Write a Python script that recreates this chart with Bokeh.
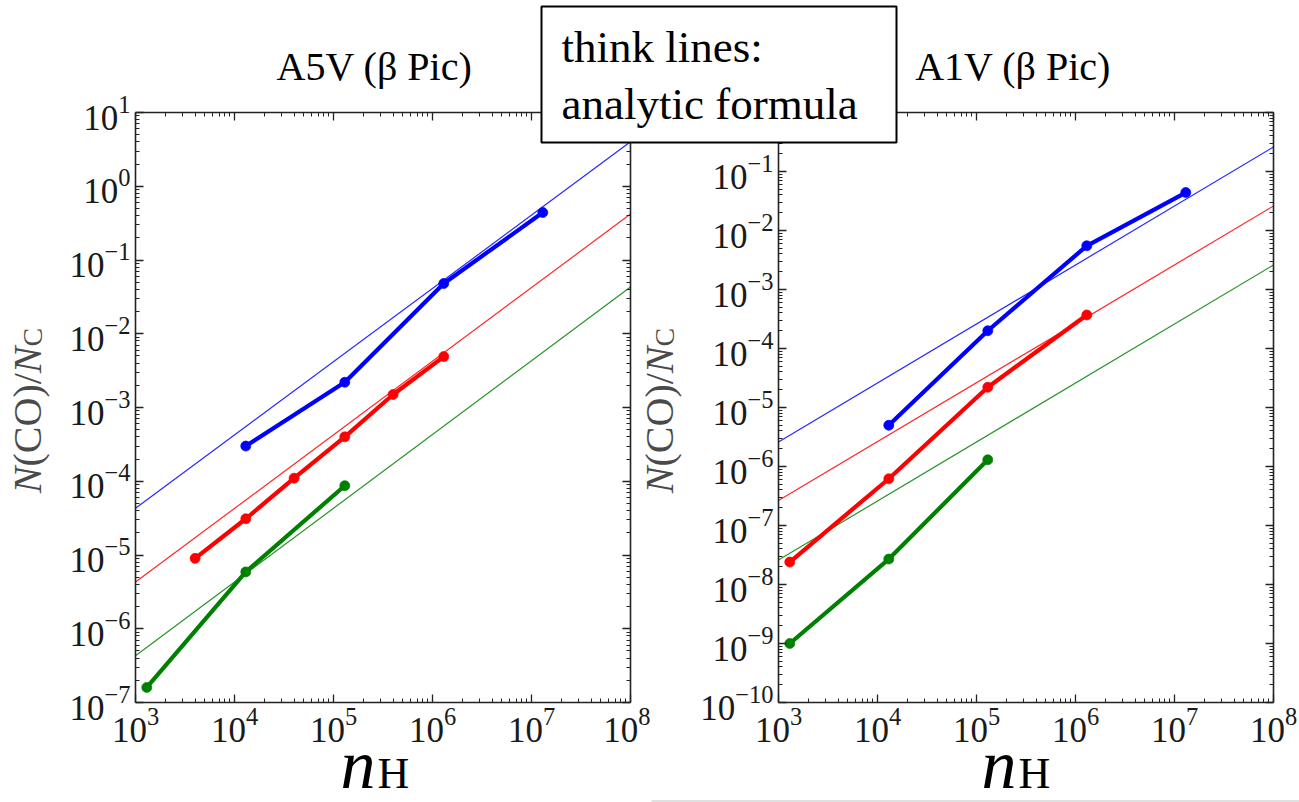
import math
from bokeh.plotting import figure
from bokeh.models import FixedTicker, LogAxis, Range1d, CustomJSTickFormatter
from bokeh.layouts import row, column
from bokeh.core.properties import value
from bokeh.embed import file_html
from bokeh.resources import INLINE

# ---------------- data ----------------
panel_titles = ["A5V (β Pic)", "A1V (β Pic)"]
box_lines = ["think lines:", "analytic formula"]

x_ticks = [1e3, 1e4, 1e5, 1e6, 1e7, 1e8]
y_ticks_A5V = [1e-7, 1e-6, 1e-5, 1e-4, 1e-3, 1e-2, 1e-1, 1e0, 1e1]
y_ticks_A1V = [1e-10, 1e-9, 1e-8, 1e-7, 1e-6, 1e-5, 1e-4, 1e-3, 1e-2, 1e-1, 1e0]

# A5V panel – simulation points (thick lines)
blue_x_A5V = [1.3e4, 1.3e5, 1.3e6, 1.3e7]
blue_y_A5V = [3.0e-4, 2.2e-3, 4.8e-2, 4.4e-1]
red_x_A5V = [4.0e3, 1.3e4, 4.0e4, 1.3e5, 4.0e5, 1.3e6]
red_y_A5V = [9.0e-6, 3.1e-5, 1.1e-4, 4.0e-4, 1.5e-3, 4.9e-3]
green_x_A5V = [1.3e3, 1.3e4, 1.3e5]
green_y_A5V = [1.6e-7, 5.9e-6, 8.7e-5]
# A5V panel – analytic formula (thin lines), end points
line_x = [1e3, 1e8]
blue_line_A5V = [4.3e-5, 4.0]
red_line_A5V = [4.3e-6, 0.42]
green_line_A5V = [4.3e-7, 0.043]

# A1V panel – simulation points
blue_x_A1V = [1.3e4, 1.3e5, 1.3e6, 1.3e7]
blue_y_A1V = [5.0e-6, 2.0e-4, 5.5e-3, 4.4e-2]
red_x_A1V = [1.3e3, 1.3e4, 1.3e5, 1.3e6]
red_y_A1V = [2.4e-8, 6.2e-7, 2.2e-5, 3.7e-4]
green_x_A1V = [1.3e3, 1.3e4, 1.3e5]
green_y_A1V = [1.0e-9, 2.7e-8, 1.3e-6]
# A1V panel – analytic formula
blue_line_A1V = [2.6e-6, 0.26]
red_line_A1V = [2.65e-7, 0.026]
green_line_A1V = [2.6e-8, 0.0026]

minor_x = [k * 10.0 ** n for n in range(3, 8) for k in range(2, 10)]

BLUE, RED, GREEN = "#0000ff", "#ff0000", "#008000"
FONT = "Liberation Serif"
AX = "#222222"
W, H = 1299, 802
TOP, BOTTOM = 112, 100
SHIFT = 17  # correction for where the text glyph puts its baseline


def style_axis(ax, show_labels):
    ax.axis_line_color = AX
    ax.axis_line_width = 1.6
    ax.major_tick_line_color = AX
    ax.minor_tick_line_color = AX
    ax.major_tick_line_width = 1.3
    ax.minor_tick_line_width = 1.0
    ax.major_tick_in = 8
    ax.major_tick_out = 0
    ax.minor_tick_in = 4
    ax.minor_tick_out = 0
    ax.major_label_text_font = FONT
    if show_labels:
        ax.major_label_text_font_size = "35px"
        ax.major_label_text_color = "#1a1a1a"
        ax.major_label_standoff = 5
    else:
        ax.formatter = CustomJSTickFormatter(code="return ''")
        ax.major_label_text_font_size = "10px"
        ax.major_label_standoff = 0


def make_panel(width, bl, br, y_lo, y_hi, y_ticks, data):
    p = figure(width=width, height=H, x_axis_type="log", y_axis_type="log",
               x_range=Range1d(x_ticks[0], x_ticks[-1]), y_range=Range1d(y_lo, y_hi),
               toolbar_location=None, output_backend="svg", title_location=None,
               min_border_left=bl, min_border_right=br,
               min_border_top=TOP, min_border_bottom=BOTTOM)
    p.grid.visible = False
    p.outline_line_color = None
    p.background_fill_color = "white"
    p.border_fill_color = "white"

    yminor = [k * 10.0 ** n for n in range(int(round(math.log10(y_lo))), int(round(math.log10(y_hi))))
              for k in range(2, 10)]
    xt = FixedTicker(ticks=x_ticks, minor_ticks=minor_x)
    yt = FixedTicker(ticks=y_ticks, minor_ticks=yminor)
    p.xaxis[0].ticker = xt
    p.yaxis[0].ticker = yt
    style_axis(p.xaxis[0], True)
    style_axis(p.yaxis[0], True)
    top = LogAxis(ticker=xt)
    right = LogAxis(ticker=yt)
    style_axis(top, False)
    style_axis(right, False)
    p.add_layout(top, "above")
    p.add_layout(right, "right")

    (bx, by, rx, ry, gx, gy, bl_line, rl_line, gl_line) = data
    for yl, c in ((bl_line, BLUE), (rl_line, RED), (gl_line, GREEN)):
        p.line(line_x, yl, line_color=c, line_width=1.2, line_alpha=0.85)
    for xs, ys, c in ((bx, by, BLUE), (rx, ry, RED), (gx, gy, GREEN)):
        p.line(xs, ys, line_color=c, line_width=4.2)
        p.scatter(xs, ys, size=10, fill_color=c, line_color=c, line_alpha=0.7)
    return p


p1 = make_panel(650, 135, 20, 1e-7, 1e1, y_ticks_A5V,
                (blue_x_A5V, blue_y_A5V, red_x_A5V, red_y_A5V, green_x_A5V, green_y_A5V,
                 blue_line_A5V, red_line_A5V, green_line_A5V))
p2 = make_panel(649, 128, 26, 1e-10, 1e0, y_ticks_A1V,
                (blue_x_A1V, blue_y_A1V, red_x_A1V, red_y_A1V, green_x_A1V, green_y_A1V,
                 blue_line_A1V, red_line_A1V, green_line_A1V))

# ---------- transparent overlay (pixel space) for titles, labels and the text box ----------
ov = figure(width=W, height=H, x_range=Range1d(0, W), y_range=Range1d(0, H),
            toolbar_location=None, output_backend="svg", title_location=None,
            x_axis_location=None, y_axis_location=None, min_border=0)
ov.grid.visible = False
ov.outline_line_color = None
ov.background_fill_alpha = 0
ov.border_fill_alpha = 0
ov.margin = (-H, 0, 0, 0)


def txt(x, py, t, size, style="normal", align="left", color="black", rotated=False):
    if rotated:
        x, py = x - SHIFT, py
    else:
        py = py - SHIFT
    ov.text(x=[x], y=[H - py], text=[t], text_font=value(FONT), text_font_size=value(f"{size}px"),
            text_font_style=style, text_align=align, text_baseline="alphabetic",
            text_color=color, angle=(math.pi / 2 if rotated else 0.0))


# panel titles
txt(374, 83, panel_titles[0], 40, align="center")
txt(1012.6, 83, panel_titles[1], 40, align="center")


# y-axis labels N(CO)/N_C (rotated)
def y_label(base_x, center_y):
    size, sub = 40, 28
    pieces = [("N", "italic", size, 0.667 * size, 0),
              ("(CO)/", "normal", size, 2.333 * size, 0),
              ("N", "italic", size, 0.667 * size, 0),
              ("C", "normal", sub, 0.667 * sub, 5)]
    total = sum(pc[3] for pc in pieces)
    y = center_y + total / 2.0
    for t, st, fs, w, dx in pieces:
        txt(base_x + dx, y, t, fs, style=st, color="#4a4a4a", rotated=True)
        y -= w


y_label(44, 410)
y_label(676, 410)

# x-axis labels n_H
for nx in (340, 981):
    txt(nx, 781, "n", 70, style="italic")
    txt(nx + 37, 790, "H", 44)

# text box
ov.quad(left=[541], right=[896], top=[H - 6], bottom=[H - 142], fill_color="white",
        line_color="black", line_width=2)
txt(561, 63, box_lines[0], 45)
txt(561, 120, box_lines[1], 45)

# thin grey rule at the bottom right
ov.segment(x0=[651], y0=[H - 800.5], x1=[W], y1=[H - 800.5], line_color="#d6d6d6", line_width=1.5)

layout = column(row(p1, p2), ov)
open("out.html", "w").write(file_html(layout, INLINE))
